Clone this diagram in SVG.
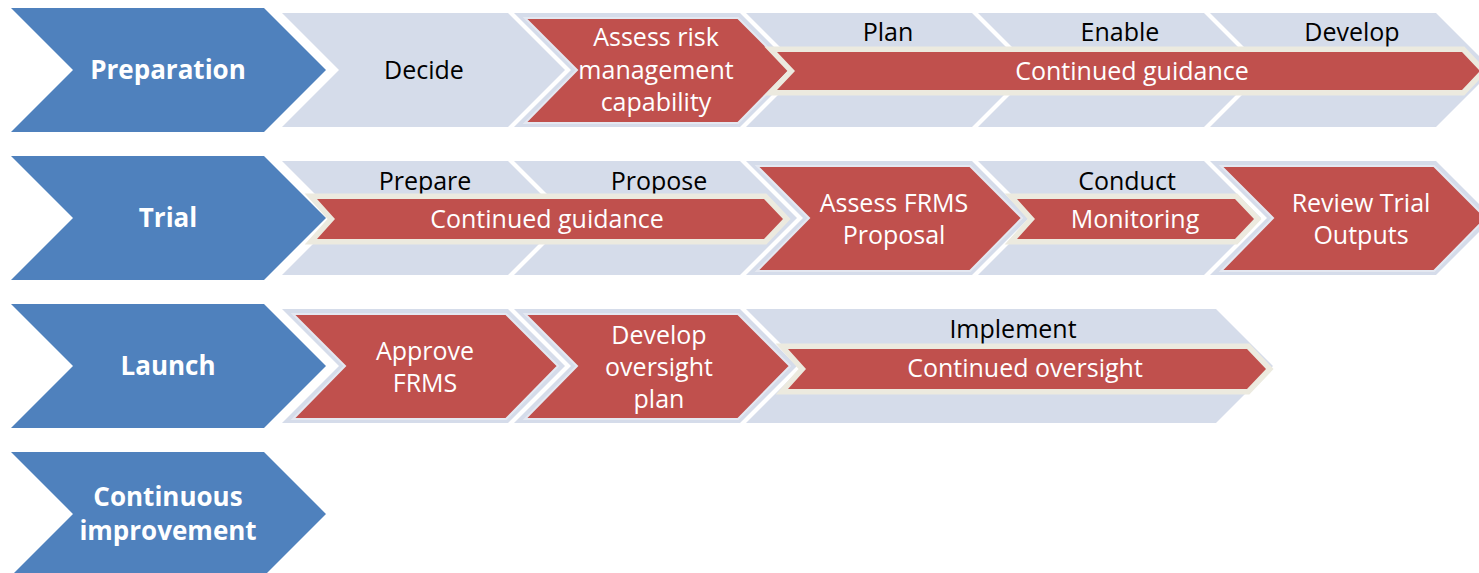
<svg xmlns="http://www.w3.org/2000/svg" width="1479" height="573" viewBox="0 0 1479 573">
<style>
.blue{fill:#4f81bd}
.light{fill:#d5dcea}
.red{fill:#c0504d;stroke:#e4e8f1;stroke-width:2}
.bar{fill:#c0504d;stroke:#eceadf;stroke-width:11;paint-order:stroke;stroke-linejoin:miter}
text{font-family:"Open Sans","Liberation Sans",sans-serif;font-size:25px;text-anchor:middle}
.hd{fill:#fff;font-weight:bold;font-size:26px}
.dk{fill:#000}
.wt{fill:#fff}
</style>
<rect width="1479" height="573" fill="#fff"/>
<g id="row1">
<g id="preparation"><polygon class="blue" points="11,8 264,8 326,70 264,132 11,132 73,70"/><text class="hd" x="168" y="79">Preparation</text></g>
<g id="decide"><polygon class="light" points="282,13 508,13 565,70 508,127 282,127 339,70"/><text class="dk" x="424" y="79">Decide</text></g>
<g id="assess-risk"><polygon class="light" points="514,13 740,13 797,70 740,127 514,127 571,70"/><polygon class="red" points="525,18 738,18 790,70 738,123 525,123 577,70"/><text class="wt" x="656" y="46">Assess risk</text><text class="wt" x="656" y="79">management</text><text class="wt" x="656" y="111">capability</text></g>
<g id="plan"><polygon class="light" points="746,13 972,13 1029,70 972,127 746,127 803,70"/><text class="dk" x="888" y="41">Plan</text></g>
<g id="enable"><polygon class="light" points="978,13 1204,13 1261,70 1204,127 978,127 1035,70"/><text class="dk" x="1120" y="41">Enable</text></g>
<g id="develop"><polygon class="light" points="1210,13 1436,13 1493,70 1436,127 1210,127 1267,70"/><text class="dk" x="1352" y="41">Develop</text></g>
<g id="guidance1"><polygon class="bar" points="777,52 1462,52 1480,71 1462,90 777,90 795,71"/><text class="wt" x="1132" y="80">Continued guidance</text></g>
</g>
<g id="row2">
<g id="trial"><polygon class="blue" points="11,156 264,156 326,218 264,280 11,280 73,218"/><text class="hd" x="168" y="227">Trial</text></g>
<g id="prepare"><polygon class="light" points="282,161 508,161 565,218 508,275 282,275 339,218"/><text class="dk" x="425" y="190">Prepare</text></g>
<g id="propose"><polygon class="light" points="514,161 740,161 797,218 740,275 514,275 571,218"/><text class="dk" x="659" y="190">Propose</text></g>
<g id="assess-frms"><polygon class="light" points="746,161 972,161 1029,218 972,275 746,275 803,218"/><polygon class="red" points="757,166 970,166 1022,218 970,271 757,271 809,218"/><text class="wt" x="894" y="212">Assess FRMS</text><text class="wt" x="894" y="244">Proposal</text></g>
<g id="conduct"><polygon class="light" points="978,161 1204,161 1261,218 1204,275 978,275 1035,218"/><text class="dk" x="1127" y="190">Conduct</text></g>
<g id="review"><polygon class="light" points="1210,161 1436,161 1493,218 1436,275 1210,275 1267,218"/><polygon class="red" points="1221,166 1434,166 1486,218 1434,271 1221,271 1273,218"/><text class="wt" x="1361" y="212">Review Trial</text><text class="wt" x="1361" y="244">Outputs</text></g>
<g id="guidance2"><polygon class="bar" points="317,199 764,199 783,219 764,239 317,239 335,219"/><text class="wt" x="547" y="228">Continued guidance</text></g>
<g id="monitoring"><polygon class="bar" points="1017,199 1235,199 1254,219 1235,239 1017,239 1035,219"/><text class="wt" x="1135" y="228">Monitoring</text></g>
</g>
<g id="row3">
<g id="launch"><polygon class="blue" points="11,304 264,304 326,366 264,428 11,428 73,366"/><text class="hd" x="168" y="375">Launch</text></g>
<g id="approve"><polygon class="light" points="282,309 508,309 565,366 508,423 282,423 339,366"/><polygon class="red" points="293,314 506,314 558,366 506,419 293,419 345,366"/><text class="wt" x="425" y="360">Approve</text><text class="wt" x="425" y="392">FRMS</text></g>
<g id="oversight-plan"><polygon class="light" points="514,309 740,309 797,366 740,423 514,423 571,366"/><polygon class="red" points="525,314 738,314 790,366 738,419 525,419 577,366"/><text class="wt" x="659" y="344">Develop</text><text class="wt" x="659" y="376">oversight</text><text class="wt" x="659" y="408">plan</text></g>
<g id="implement"><polygon class="light" points="746,309 1216,309 1273,366 1216,423 746,423 803,366"/><text class="dk" x="1013" y="338">Implement</text></g>
<g id="oversight"><polygon class="bar" points="788,349 1247,349 1266,369 1247,389 788,389 806,369"/><text class="wt" x="1025" y="377">Continued oversight</text></g>
</g>
<g id="row4">
<g id="continuous"><polygon class="blue" points="11,452 264,452 326,514 264,576 11,576 73,514"/><text class="hd" x="168" y="506">Continuous</text><text class="hd" x="168" y="540">improvement</text></g>
</g>
<g id="connectors"></g>
</svg>
